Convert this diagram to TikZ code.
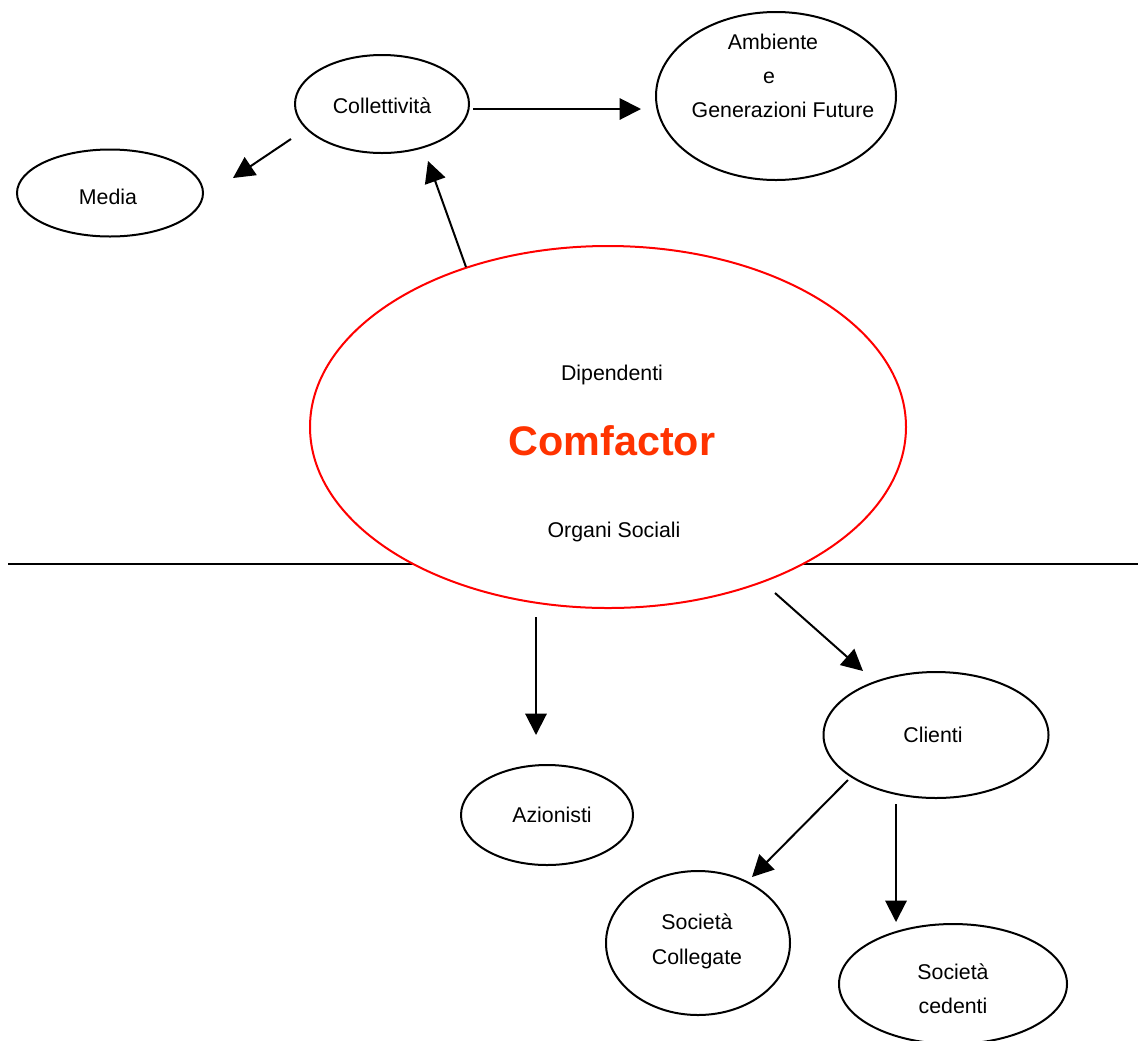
\documentclass[tikz,border=0pt]{standalone}
\usepackage{fontspec}
\setmainfont{Liberation Sans}
\usetikzlibrary{shapes.geometric,arrows.meta}
\definecolor{cfred}{HTML}{FF3300}
\tikzset{
  oval/.style 2 args={ellipse, draw=black, line width=1.5pt, fill=white,
    minimum width=#1*0.75pt, minimum height=#2*0.75pt, inner sep=0pt},
  lbl/.style={anchor=base, inner sep=0pt, font=\fontsize{16}{19}\selectfont},
  arr/.style={line width=1.5pt, -{Triangle[length=16pt, width=16pt]}},
}
\begin{document}
\begin{tikzpicture}[x=0.75pt, y=-0.75pt]
\useasboundingbox (0,0) rectangle (1138,1040);
% horizontal line
\coordinate (hl1) at (8,564);
\coordinate (hl2) at (1138,564);
\draw[line width=1.5pt] (hl1) -- (hl2);
% ellipses
\node[oval={174}{98}] (coll) at (382,104) {};
\node[oval={240}{168}] (amb) at (776,96) {};
\node[oval={186}{87}] (media) at (110,193) {};
\node[oval={596}{362}, draw=red] (comf) at (608,427) {};
\node[oval={225}{126}] (cli) at (936,735) {};
\node[oval={172}{100}] (az) at (547,815) {};
\node[oval={184}{144}] (coleg) at (698,943) {};
\node[oval={228}{120}] (ced) at (953,984) {};
% texts
\node[lbl] (tcoll) at (382,113) {Collettività};
\node[lbl] (tamb1) at (773,49) {Ambiente};
\node[lbl] (tamb2) at (769,83) {e};
\node[lbl] (tamb3) at (783,117) {Generazioni Future};
\node[lbl] (tmedia) at (108,204) {Media};
\node[lbl] (tdip) at (612,380) {Dipendenti};
\node[anchor=base, inner sep=0pt, font=\fontsize{31}{36}\selectfont\bfseries, text=cfred] (tcomf) at (612,455) {Comfactor};
\node[lbl] (torg) at (614,537) {Organi Sociali};
\node[lbl] (tcli) at (933,742) {Clienti};
\node[lbl] (taz) at (552,822) {Azionisti};
\node[lbl] (tcol1) at (697,929) {Società};
\node[lbl] (tcol2) at (697,964) {Collegate};
\node[lbl] (tced1) at (953,979) {Società};
\node[lbl] (tced2) at (953,1013) {cedenti};
% arrow endpoints
\coordinate (a1s) at (291,139); \coordinate (a1e) at (233,178);
\coordinate (a2s) at (473,109); \coordinate (a2e) at (641,109);
\coordinate (a3s) at (466,267); \coordinate (a3e) at (428,161);
\coordinate (a4s) at (775,593); \coordinate (a4e) at (863,671);
\coordinate (a5s) at (536,617); \coordinate (a5e) at (536,735);
\coordinate (a6s) at (848,780); \coordinate (a6e) at (752,877);
\coordinate (a7s) at (896,804); \coordinate (a7e) at (896,922);
\draw[arr] (a1s) -- (a1e);
\draw[arr] (a2s) -- (a2e);
\draw[arr] (a3s) -- (a3e);
\draw[arr] (a4s) -- (a4e);
\draw[arr] (a5s) -- (a5e);
\draw[arr] (a6s) -- (a6e);
\draw[arr] (a7s) -- (a7e);
\end{tikzpicture}
\end{document}
